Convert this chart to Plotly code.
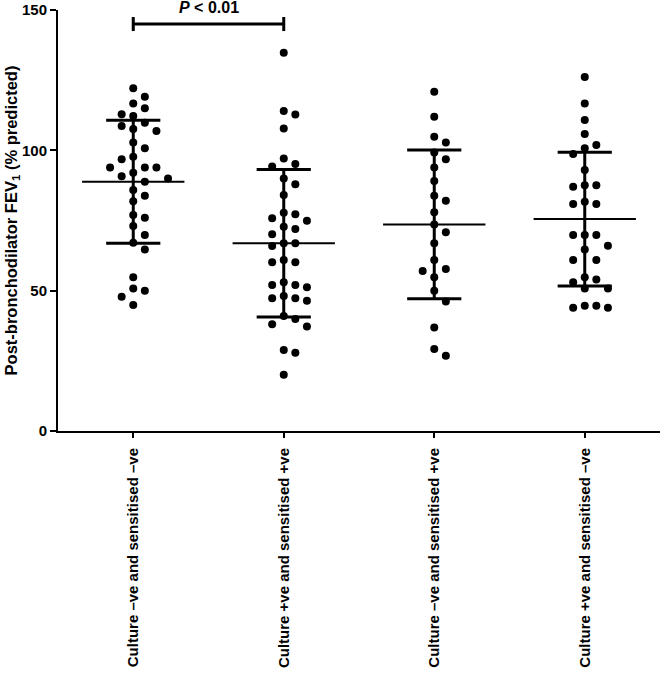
import plotly.graph_objects as go

categories = [
    "Culture \u2013ve and sensitised \u2013ve",
    "Culture +ve and sensitised +ve",
    "Culture \u2013ve and sensitised +ve",
    "Culture +ve and sensitised \u2013ve",
]

group1 = [122.1, 119.1, 116.7, 115.0, 112.9, 112.2, 109.8, 108.7, 107.6, 106.9,
          102.8, 100.7, 97.7, 96.8, 93.9, 93.9, 93.9, 92.0, 90.8, 90.0,
          88.8, 85.9, 83.8, 81.9, 77.0, 76.0, 73.0, 69.8, 67.1, 64.7,
          54.8, 50.8, 50.0, 47.8, 44.9]
group2 = [134.8, 114.0, 112.8, 107.8, 97.1, 95.1, 94.2, 90.0, 87.9, 84.1,
          77.8, 77.2, 75.8, 74.9, 72.8, 72.0, 70.1, 66.9, 66.9, 65.9,
          60.9, 60.1, 60.1, 53.0, 52.0, 52.0, 51.2, 48.1, 47.3, 47.3,
          46.4, 41.0, 39.9, 38.0, 37.2, 28.9, 27.9, 20.0]
group3 = [120.9, 112.0, 104.8, 102.8, 99.2, 96.8, 93.9, 89.1, 83.8, 82.0,
          77.9, 73.6, 70.8, 66.9, 60.9, 57.7, 57.0, 54.8, 50.0, 46.1,
          36.9, 29.2, 26.8]
group4 = [126.1, 116.7, 110.8, 105.8, 101.9, 100.7, 98.7, 93.0, 87.6, 87.6,
          87.0, 81.7, 80.9, 80.9, 69.8, 69.8, 69.8, 66.0, 64.7, 60.9,
          60.9, 54.8, 54.0, 53.0, 50.8, 50.8, 44.6, 44.6, 43.9, 43.9]

means = [88.8, 66.9, 73.6, 75.5]
sds = [21.9, 26.3, 26.5, 23.8]

y_ticks = [0, 50, 100, 150]
p_label = "<i>P</i> < 0.01"

groups = [group1, group2, group3, group4]

FONT = "Arial, Liberation Sans, sans-serif"
COL_STEP = 0.077   # horizontal spacing between swarm columns (x units)
MIN_GAP = 4.0      # min vertical separation in the same column (y units)


def swarm_offsets(values):
    order = sorted(range(len(values)), key=lambda i: -values[i])
    cols = {}
    offs = [0.0] * len(values)
    for i in order:
        v = values[i]
        for k in [0, 1, -1, 2, -2, 3, -3, 4, -4]:
            if all(abs(v - u) >= MIN_GAP for u in cols.get(k, [])):
                cols.setdefault(k, []).append(v)
                offs[i] = k * COL_STEP
                break
    return offs


fig = go.Figure()

for gi, vals in enumerate(groups):
    offs = swarm_offsets(vals)
    fig.add_trace(go.Scatter(
        x=[gi + o for o in offs], y=vals, mode="markers",
        marker=dict(size=8, color="black"),
        cliponaxis=False, showlegend=False, hoverinfo="y"))

for gi, (m, s) in enumerate(zip(means, sds)):
    lw = dict(color="black", width=3)
    fig.add_trace(go.Scatter(x=[gi, gi], y=[m - s, m + s], mode="lines",
                             line=lw, showlegend=False, hoverinfo="skip"))
    for yy in (m - s, m + s):
        fig.add_trace(go.Scatter(x=[gi - 0.18, gi + 0.18], y=[yy, yy], mode="lines",
                                 line=lw, showlegend=False, hoverinfo="skip"))
    fig.add_trace(go.Scatter(x=[gi - 0.34, gi + 0.34], y=[m, m], mode="lines",
                             line=dict(color="black", width=2),
                             showlegend=False, hoverinfo="skip"))

# significance bracket between group 1 and 2
BR_Y = 145.0
fig.add_trace(go.Scatter(x=[0, 1], y=[BR_Y, BR_Y], mode="lines",
                         line=dict(color="black", width=3),
                         showlegend=False, hoverinfo="skip", cliponaxis=False))
for xx in (0, 1):
    fig.add_trace(go.Scatter(x=[xx, xx], y=[BR_Y - 2.5, BR_Y + 2.5], mode="lines",
                             line=dict(color="black", width=3),
                             showlegend=False, hoverinfo="skip", cliponaxis=False))
fig.add_annotation(x=0.5, y=BR_Y + 2.0, text=p_label, showarrow=False,
                   yanchor="bottom", xanchor="center",
                   font=dict(family=FONT, size=16, color="black", weight="bold"))

fig.update_layout(
    width=661, height=675,
    margin=dict(l=58, r=1, t=10, b=244, autoexpand=False),
    paper_bgcolor="white", plot_bgcolor="white",
    font=dict(family=FONT, color="black"),
    showlegend=False,
)
fig.update_xaxes(
    range=[-0.5, 3.5], tickvals=list(range(len(categories))), ticktext=categories,
    tickangle=-90, showline=True, linecolor="black", linewidth=2,
    ticks="outside", ticklen=5, tickwidth=1.5, tickcolor="black",
    ticklabelstandoff=4,
    showgrid=False, zeroline=False, automargin=False,
    tickfont=dict(family=FONT, size=15, color="black", weight="bold"),
)
fig.update_yaxes(
    range=[0, 150], tickvals=y_ticks, showline=True, linecolor="black", linewidth=2,
    ticks="outside", ticklen=6, tickwidth=2, tickcolor="black",
    showgrid=False, zeroline=False, automargin=False,
    tickfont=dict(family=FONT, size=15, color="black", weight="bold"),
    title=dict(text="Post-bronchodilator FEV<sub>1</sub> (% predicted)",
               font=dict(family=FONT, size=16.5, color="black", weight="bold"),
               standoff=0),
)

fig.write_html("out.html",
               config={"displayModeBar": False},
               post_script="document.body.style.margin='0';document.body.style.overflow='hidden';")
